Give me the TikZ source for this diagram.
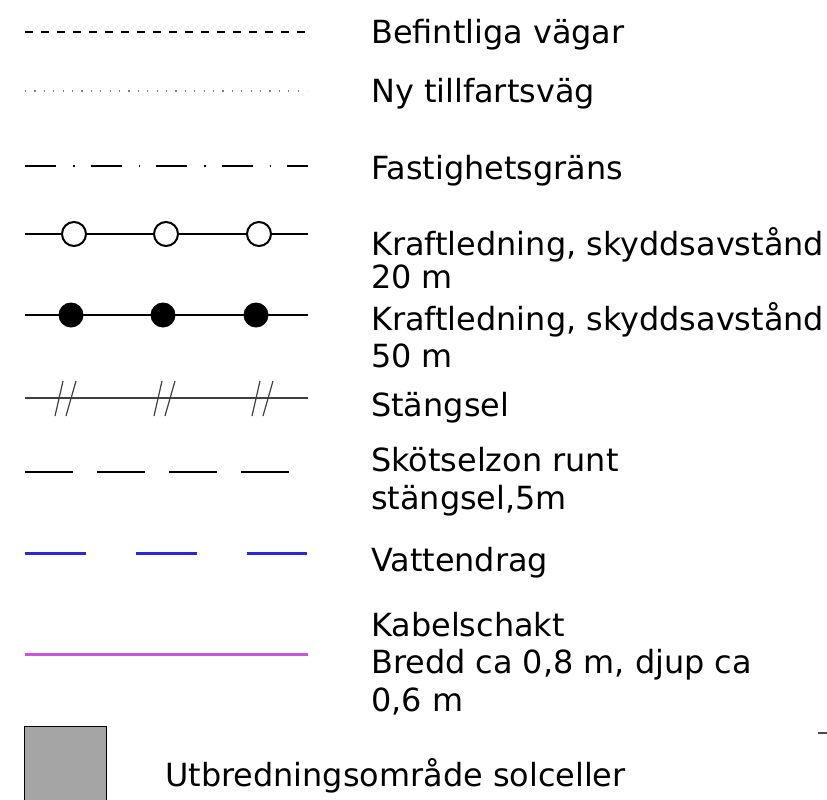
\documentclass[tikz,border=0pt]{standalone}
\usepackage{fontspec}
\setmainfont{DejaVu Sans}
\definecolor{waterblue}{RGB}{40,40,215}
\definecolor{cablepurple}{RGB}{204,85,221}
\definecolor{areagray}{RGB}{165,165,165}
\tikzset{
  lbl/.style={anchor=base west,inner sep=0pt,font=\fontsize{31.9}{35}\selectfont},
  symline/.style={line width=1.8pt},
}
\begin{document}
\begin{tikzpicture}[x=1pt,y=-1pt]
\useasboundingbox (0,0) rectangle (827,800);
% 1 Befintliga vagar
\draw[line width=1.6pt,dash pattern=on 8pt off 8pt] (25,32) -- (305,32);
\node[lbl] (t1) at (371,44) {Befintliga vägar};
% 2 Ny tillfartsvag
\draw[line width=1.2pt,gray,dash pattern=on 1.2pt off 8.2pt] (25,91) -- (307,91);
\node[lbl] (t2) at (371,102) {Ny tillfartsväg};
% 3 Fastighetsgrans
\draw[line width=1.4pt,dash pattern=on 31pt off 17pt on 1.5pt off 16pt] (25,166) -- (308,166);
\node[lbl] (t3) at (371,179) {Fastighetsgräns};
% 4 Kraftledning 20 m
\draw[symline] (25,234) -- (308,234);
\foreach \cx in {74,166,259} \draw[line width=2pt,fill=white] (\cx,234) circle[radius=12];
\node[lbl] (t4a) at (371,255) {Kraftledning, skyddsavstånd};
\node[lbl] (t4b) at (371,288) {20 m};
% 5 Kraftledning 50 m
\draw[line width=2pt] (25,315) -- (308,315);
\foreach \cx in {71,163,256} \fill (\cx,315) circle[radius=12.5];
\node[lbl] (t5a) at (371,330) {Kraftledning, skyddsavstånd};
\node[lbl] (t5b) at (371,367) {50 m};
% 6 Stangsel
\draw[line width=1.2pt,black!75] (25,398) -- (308,398);
\foreach \cx in {66,165,263} {
  \draw[line width=1.2pt,black!75] (\cx-11,416) -- (\cx-3,381);
  \draw[line width=1.2pt,black!75] (\cx,416) -- (\cx+10,381);
}
\node[lbl] (t6) at (371,416) {Stängsel};
% 7 Skotselzon
\draw[line width=2pt,dash pattern=on 48pt off 24pt] (25,472) -- (289,472);
\node[lbl] (t7a) at (371,471) {Skötselzon runt};
\node[lbl] (t7b) at (371,509) {stängsel,5m};
% 8 Vattendrag
\draw[line width=3pt,waterblue,dash pattern=on 61pt off 50pt] (25,553) -- (307,553);
\node[lbl] (t8) at (371,571) {Vattendrag};
% 9 Kabelschakt
\draw[line width=3pt,cablepurple] (25,654) -- (308,654);
\node[lbl] (t9a) at (371,636) {Kabelschakt};
\node[lbl] (t9b) at (371,673) {Bredd ca 0,8 m, djup ca};
\node[lbl] (t9c) at (371,711) {0,6 m};
% 10 Utbredningsomrade
\draw[line width=0.8pt,fill=areagray] (24.5,726.5) rectangle (106,805);
\node[lbl] (t10) at (165,786) {Utbredningsområde solceller};
% small mark
\draw[line width=1.5pt,black!70] (818,733) -- (828,733);
\end{tikzpicture}
\end{document}
